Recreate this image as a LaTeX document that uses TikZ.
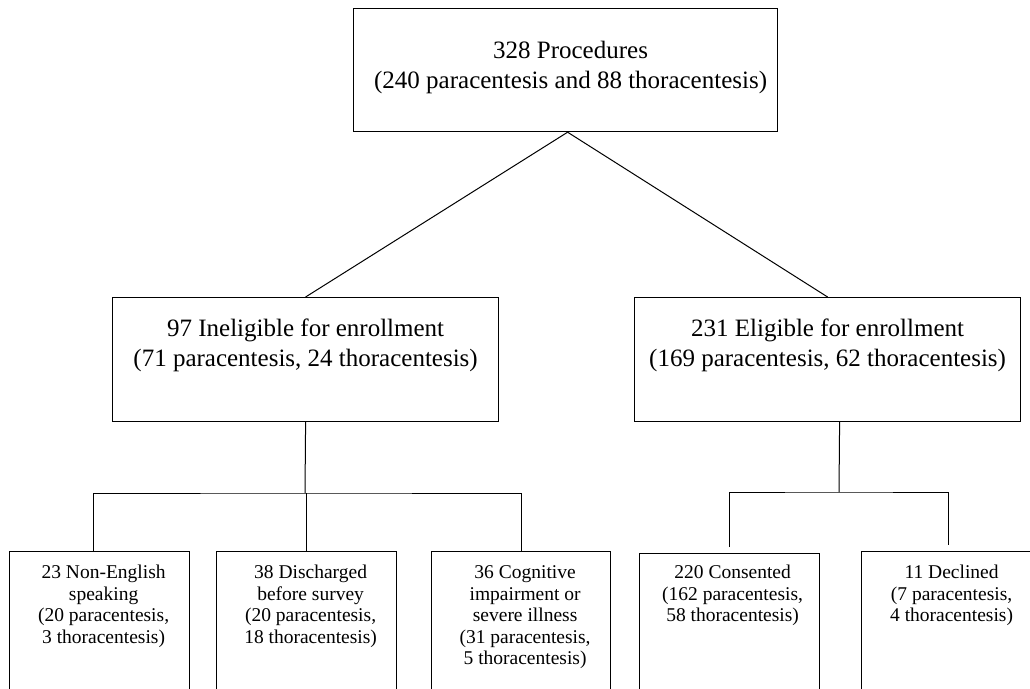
\documentclass[tikz,border=0pt]{standalone}
\usepackage{fontspec}
\setmainfont{Liberation Serif}
% #1 width, #2 height, #3 font size, #4 baselineskip, #5 first baseline depth, #6 text, #7 left shift
\newcommand{\flowtext}[7]{\parbox[t][#2][t]{#1}{\fontsize{#3}{#4}\selectfont\centering\leftskip=#7 plus 1fil\relax\rule{0pt}{#5}#6}}
\tikzset{
  box/.style={draw, line width=1.2pt, inner sep=0pt, anchor=north west},
  link/.style={line width=1pt},
}
\begin{document}
\begin{tikzpicture}[x=1pt, y=-1pt]
\useasboundingbox (0,0) rectangle (1030,688);
\fill[white] (0,0) rectangle (1030,688);
\clip (0,0) rectangle (1030,688);

\node[box] (top) at (353,8) {\flowtext{424pt}{123pt}{25}{30.5}{49.7pt}{328 Procedures\\(240 paracentesis and 88 thoracentesis)}{10pt}};

\node[box] (inel) at (112,297) {\flowtext{386pt}{124pt}{25}{29.5}{39pt}{97 Ineligible for enrollment\\(71 paracentesis, 24 thoracentesis)}{0pt}};
\node[box] (elig) at (634,297) {\flowtext{386pt}{124pt}{25}{29.5}{39pt}{231 Eligible for enrollment\\(169 paracentesis, 62 thoracentesis)}{0pt}};

\node[box] (b1) at (9,551) {\flowtext{180pt}{170pt}{19.5}{21.5}{27pt}{23 Non-English\\speaking\\(20 paracentesis,\\3 thoracentesis)}{8pt}};
\node[box] (b2) at (216,551) {\flowtext{180pt}{170pt}{19.5}{21.5}{27pt}{38 Discharged\\before survey\\(20 paracentesis,\\18 thoracentesis)}{8pt}};
\node[box] (b3) at (431,551) {\flowtext{179pt}{170pt}{19.5}{21.5}{27pt}{36 Cognitive\\impairment or\\severe illness\\(31 paracentesis,\\5 thoracentesis)}{8pt}};
\node[box] (b4) at (639,553) {\flowtext{180pt}{170pt}{19.5}{21.5}{25pt}{220 Consented\\(162 paracentesis,\\58 thoracentesis)}{6pt}};
\node[box] (b5) at (861,551) {\flowtext{180pt}{170pt}{19.5}{21.5}{27pt}{11 Declined\\(7 paracentesis,\\4 thoracentesis)}{0pt}};

\draw[link] ([xshift=2pt]top.south) -- (inel.north);
\draw[link] ([xshift=2pt]top.south) -- (elig.north);

\coordinate (lj) at (305,493);
\draw[link] (inel.south) -- (lj);
\draw[link] ([xshift=-6pt]b1.north) |- (lj) -| (b3.north);
\draw[link] (b2.north |- lj) -- (b2.north |- b1.north);

\coordinate (rj) at (839,492);
\draw[link] ([xshift=12pt]elig.south) -- (rj);
\draw[link] ([yshift=6pt]b4.north) |- (rj) -| ([xshift=-3pt,yshift=6pt]b5.north);
\end{tikzpicture}
\end{document}
